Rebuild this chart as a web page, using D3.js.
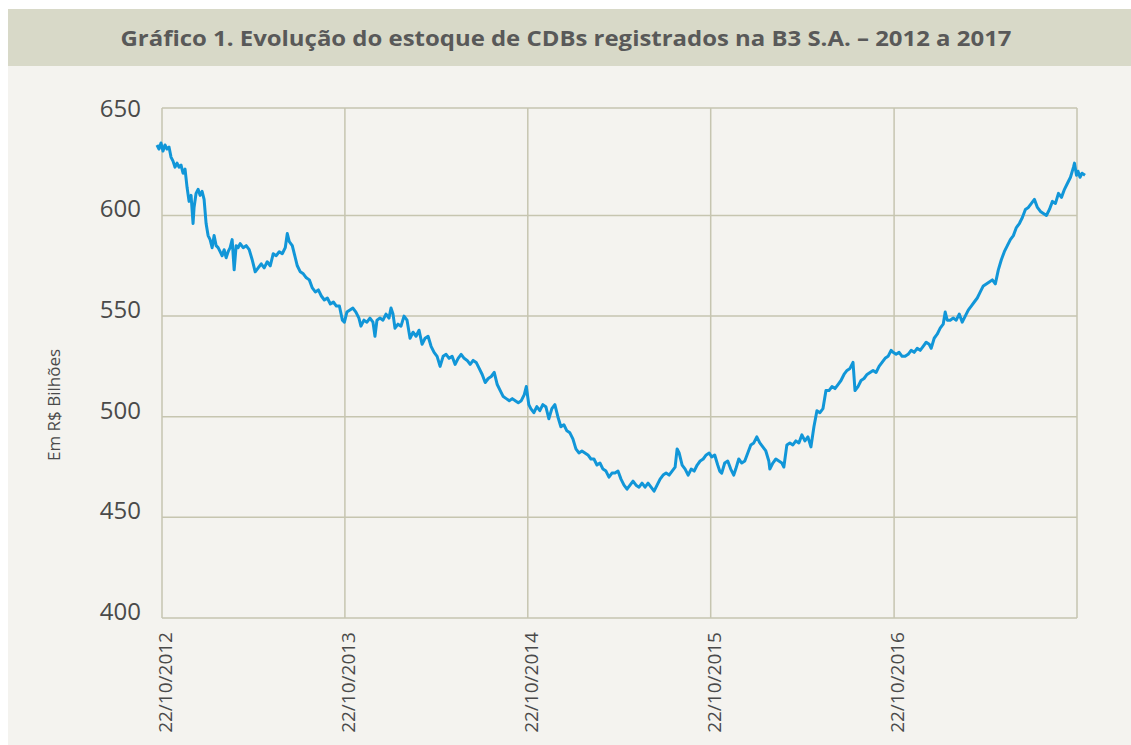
<!DOCTYPE html>
<html><head><meta charset="utf-8">
<script src="https://cdn.jsdelivr.net/npm/d3@7"></script>
<style>
html,body{margin:0;padding:0;background:#ffffff;}
svg{display:block;}
</style></head>
<body>
<svg id="chart" width="1131" height="745"></svg>
<script>
const titleText = "Gráfico 1. Evolução do estoque de CDBs registrados na B3 S.A. – 2012 a 2017";
const yAxisTitle = "Em R$ Bilhões";
const yTicks = [400, 450, 500, 550, 600, 650];
const xTickDates = ["2012-10-22", "2013-10-22", "2014-10-22", "2015-10-22", "2016-10-22", "2017-10-22"];
const xTickLabels = ["22/10/2012", "22/10/2013", "22/10/2014", "22/10/2015", "22/10/2016", ""];

const dates = [
"2012-10-12","2012-10-16","2012-10-20","2012-10-24","2012-10-28","2012-11-01","2012-11-05","2012-11-09","2012-11-13","2012-11-17","2012-11-21","2012-11-25","2012-11-29","2012-12-03","2012-12-07","2012-12-11","2012-12-15","2012-12-19","2012-12-23","2012-12-25","2012-12-29",
"2013-01-02","2013-01-06","2013-01-10","2013-01-14","2013-01-18","2013-01-22","2013-01-26","2013-01-30","2013-02-03","2013-02-07","2013-02-11","2013-02-15","2013-02-19","2013-02-23","2013-02-27","2013-03-03","2013-03-07","2013-03-11","2013-03-15","2013-03-19","2013-03-23","2013-03-27","2013-04-02","2013-04-08","2013-04-14","2013-04-20","2013-04-26","2013-05-02","2013-05-08","2013-05-14","2013-05-20","2013-05-26","2013-06-01","2013-06-07","2013-06-13","2013-06-19","2013-06-25","2013-06-29","2013-07-03","2013-07-09","2013-07-15","2013-07-19","2013-07-25","2013-07-31","2013-08-06","2013-08-12","2013-08-18","2013-08-24","2013-08-30","2013-09-05","2013-09-11","2013-09-17","2013-09-23","2013-09-29","2013-10-05","2013-10-11","2013-10-17","2013-10-21",
"2013-10-26","2013-11-01","2013-11-07","2013-11-13","2013-11-19","2013-11-23","2013-11-29","2013-12-05","2013-12-11","2013-12-17","2013-12-21","2013-12-25","2013-12-31","2014-01-06","2014-01-12","2014-01-18","2014-01-22","2014-01-26","2014-01-30","2014-02-05","2014-02-11","2014-02-17","2014-02-23","2014-03-01","2014-03-07","2014-03-13","2014-03-19","2014-03-25","2014-03-31","2014-04-06","2014-04-12","2014-04-18","2014-04-24","2014-04-30","2014-05-06","2014-05-12","2014-05-18","2014-05-24","2014-05-30","2014-06-05","2014-06-11","2014-06-17","2014-06-23","2014-06-29","2014-07-05","2014-07-11","2014-07-17","2014-07-23","2014-07-29","2014-08-04","2014-08-10","2014-08-16","2014-08-22","2014-08-28","2014-09-03","2014-09-09","2014-09-15","2014-09-21","2014-09-27","2014-10-03","2014-10-09","2014-10-15","2014-10-19",
"2014-10-24","2014-10-28","2014-11-03","2014-11-09","2014-11-15","2014-11-21","2014-11-27","2014-12-03","2014-12-09","2014-12-15","2014-12-21","2014-12-27","2015-01-02","2015-01-08","2015-01-14","2015-01-20","2015-01-26","2015-02-01","2015-02-07","2015-02-13","2015-02-19","2015-02-25","2015-03-03","2015-03-09","2015-03-15","2015-03-21","2015-03-27","2015-04-02","2015-04-08","2015-04-14","2015-04-20","2015-04-26","2015-05-02","2015-05-08","2015-05-14","2015-05-20","2015-05-26","2015-06-01","2015-06-07","2015-06-13","2015-06-19","2015-06-25","2015-07-01","2015-07-07","2015-07-13","2015-07-19","2015-07-25","2015-07-31","2015-08-06","2015-08-12","2015-08-16","2015-08-20","2015-08-26","2015-09-01","2015-09-07","2015-09-13","2015-09-19","2015-09-25","2015-10-01","2015-10-07","2015-10-13","2015-10-19",
"2015-10-24","2015-10-30","2015-11-05","2015-11-09","2015-11-13","2015-11-19","2015-11-25","2015-12-01","2015-12-07","2015-12-11","2015-12-17","2015-12-23","2015-12-29","2016-01-04","2016-01-10","2016-01-16","2016-01-22","2016-01-28","2016-02-03","2016-02-09","2016-02-15","2016-02-17","2016-02-23","2016-02-29","2016-03-06","2016-03-12","2016-03-16","2016-03-22","2016-03-28","2016-04-03","2016-04-09","2016-04-15","2016-04-21","2016-04-27","2016-05-03","2016-05-09","2016-05-15","2016-05-21","2016-05-27","2016-06-02","2016-06-08","2016-06-14","2016-06-20","2016-06-26","2016-07-02","2016-07-08","2016-07-14","2016-07-20","2016-07-26","2016-08-01","2016-08-05","2016-08-11","2016-08-17","2016-08-23","2016-08-29","2016-09-04","2016-09-10","2016-09-16","2016-09-22","2016-09-28","2016-10-04","2016-10-10","2016-10-16","2016-10-20",
"2016-10-26","2016-11-01","2016-11-07","2016-11-13","2016-11-19","2016-11-25","2016-12-01","2016-12-07","2016-12-13","2016-12-19","2016-12-25","2016-12-31","2017-01-04","2017-01-10","2017-01-16","2017-01-22","2017-01-28","2017-02-01","2017-02-05","2017-02-11","2017-02-17","2017-02-23","2017-03-01","2017-03-07","2017-03-13","2017-03-19","2017-03-25","2017-03-31","2017-04-06","2017-04-12","2017-04-18","2017-04-24","2017-04-30","2017-05-06","2017-05-12","2017-05-18","2017-05-24","2017-05-30","2017-06-05","2017-06-11","2017-06-17","2017-06-23","2017-06-29","2017-07-05","2017-07-11","2017-07-17","2017-07-23","2017-07-29","2017-08-04","2017-08-10","2017-08-16","2017-08-22","2017-08-28","2017-09-03","2017-09-09","2017-09-15","2017-09-21","2017-09-27","2017-10-03","2017-10-09","2017-10-15","2017-10-17","2017-10-21",
"2017-10-24","2017-10-28","2017-11-01","2017-11-07"
];
const stock = [
635,633,636,632,635,633,634,629,627,624,626,624,625,621,623,614,607,610,596,604,611,
613,610,612,608,596,590,588,584,590,585,584,582,580,583,579,582,584,588,573,585,584,586,584,585,583,578,572,574,576,574,577,575,581,580,582,581,584,591,587,585,579,575,572,571,569,568,564,562,563,560,558,559,556,557,555,555,548,547,
552,553,554,552,549,545,548,547,549,547,540,548,549,548,551,549,554,551,544,546,545,550,548,539,542,540,543,536,539,540,535,532,530,525,530,531,529,530,526,529,531,529,528,526,528,527,524,521,517,519,520,522,516,513,510,509,508,509,508,507,508,511,515,
506,504,502,505,503,506,505,499,504,506,500,495,496,493,492,489,484,482,483,482,481,479,479,476,477,474,473,470,472,472,473,469,466,464,466,468,466,465,467,465,467,465,463,466,469,471,472,471,473,475,484,482,476,474,471,474,473,476,478,479,481,482,
480,481,476,473,472,477,478,474,471,474,479,477,478,482,486,487,490,487,485,483,478,474,477,479,478,477,475,486,487,486,488,487,491,488,490,485,495,503,502,504,513,513,515,514,516,518,521,523,524,527,513,515,518,519,521,522,523,522,525,527,529,530,533,532,
531,532,530,530,531,533,532,534,533,535,537,536,534,539,541,544,546,552,548,548,549,548,551,547,550,553,555,557,559,562,565,566,567,568,566,573,578,582,585,588,590,594,596,599,603,604,606,608,604,602,601,600,603,607,606,611,609,613,616,619,624,626,620,
622,619,621,620
];

const W = 1131, H = 745;
const plotL = 162, plotR = 1077, plotT = 108, plotB = 618;
const svg = d3.select("#chart");

// card backgrounds
svg.append("rect").attr("x", 8).attr("y", 9).attr("width", W - 8).attr("height", H - 9).attr("fill", "#f4f3ef");
svg.append("rect").attr("x", 8).attr("y", 9).attr("width", W - 8).attr("height", 57).attr("fill", "#d8d9c8");
svg.append("text").attr("x", 566).attr("y", 46).attr("text-anchor", "middle")
  .attr("font-family", "'Open Sans', sans-serif").attr("font-weight", 700).attr("font-size", 22)
  .attr("fill", "#595959").attr("textLength", 891).attr("lengthAdjust", "spacingAndGlyphs")
  .text(titleText);

const parse = d3.timeParse("%Y-%m-%d");
const data = dates.map((d, i) => ({date: parse(d), value: stock[i]}));

const x = d3.scaleTime().domain([parse(xTickDates[0]), parse(xTickDates[xTickDates.length - 1])]).range([plotL, plotR]);
const y = d3.scaleLinear().domain([400, 653.4]).range([plotB, plotT]);

const gridColor = "#c6c5b0";
const g = svg.append("g");

g.selectAll("line.h").data(yTicks.filter(v => v > 400 && v < 650)).enter().append("line")
  .attr("x1", plotL).attr("x2", plotR).attr("y1", d => y(d)).attr("y2", d => y(d))
  .attr("stroke", gridColor).attr("stroke-width", 1.5);
g.append("line").attr("x1", plotL).attr("x2", plotR).attr("y1", plotT).attr("y2", plotT).attr("stroke", gridColor).attr("stroke-width", 1.5);
g.append("line").attr("x1", plotL).attr("x2", plotR).attr("y1", plotB).attr("y2", plotB).attr("stroke", gridColor).attr("stroke-width", 1.5);
g.selectAll("line.v").data(xTickDates).enter().append("line")
  .attr("x1", d => x(parse(d))).attr("x2", d => x(parse(d)))
  .attr("y1", plotT).attr("y2", plotB)
  .attr("stroke", gridColor).attr("stroke-width", 1.5);

g.selectAll("text.yt").data(yTicks).enter().append("text")
  .attr("x", plotL - 21).attr("y", d => y(d) + 2)
  .attr("text-anchor", "end")
  .attr("font-family", "'Open Sans', sans-serif").attr("font-size", 24)
  .attr("fill", "#4a4a4a")
  .text(d => d);

g.selectAll("text.xt").data(xTickDates.map((d, i) => ({d, label: xTickLabels[i]})).filter(t => t.label)).enter().append("text")
  .attr("transform", t => `translate(${x(parse(t.d)) + 10},632) rotate(-90)`)
  .attr("text-anchor", "end")
  .attr("font-family", "'Open Sans', sans-serif").attr("font-size", 19)
  .attr("fill", "#4a4a4a")
  .text(t => t.label);

svg.append("text")
  .attr("transform", `translate(60,405) rotate(-90)`)
  .attr("text-anchor", "middle")
  .attr("font-family", "'Open Sans', sans-serif").attr("font-size", 17)
  .attr("fill", "#4a4a4a")
  .text(yAxisTitle);

const line = d3.line().x(d => x(d.date)).y(d => y(d.value));
svg.append("path").datum(data)
  .attr("d", line)
  .attr("fill", "none")
  .attr("stroke", "#1196d8")
  .attr("stroke-width", 3)
  .attr("stroke-linejoin", "round");
</script>
</body></html>
